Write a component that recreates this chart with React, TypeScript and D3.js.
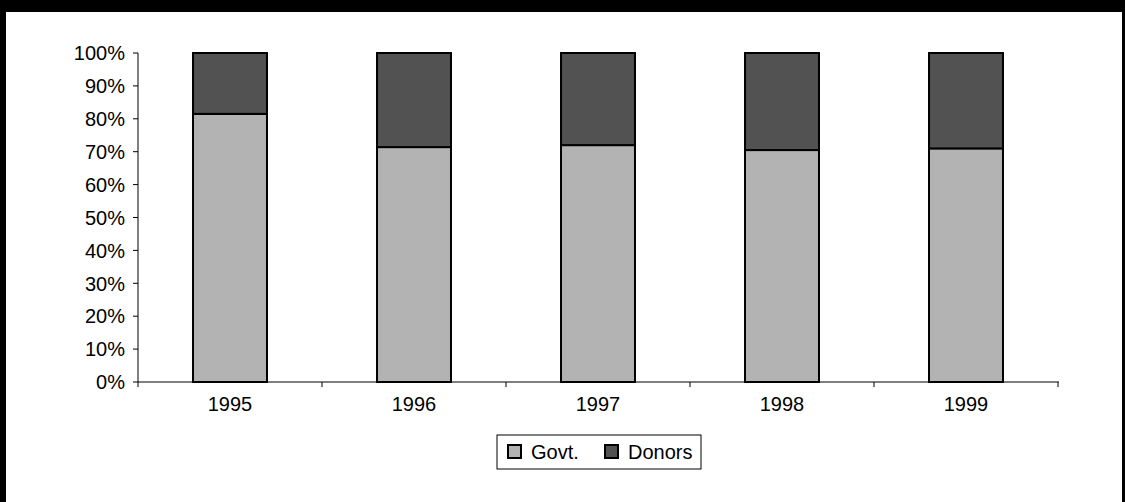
import React from "react";
import * as d3 from "d3";

const years = ["1995", "1996", "1997", "1998", "1999"];
const govt = [0.815, 0.714, 0.72, 0.705, 0.71];
const donors = govt.map((g) => 1 - g);
const yTicks = [0, 0.1, 0.2, 0.3, 0.4, 0.5, 0.6, 0.7, 0.8, 0.9, 1.0];
const seriesNames = ["Govt.", "Donors"];
const seriesColors = ["#b3b3b3", "#525252"];

const W = 1125;
const H = 502;
const FONT = "'Liberation Sans', Arial, Helvetica, sans-serif";

export default function App() {
  const x = d3
    .scaleBand<string>()
    .domain(years)
    .range([138, 1058])
    .paddingInner(0.598)
    .paddingOuter(0.299);
  const y = d3.scaleLinear().domain([0, 1]).range([382, 53]);
  const step = x.step();
  const stack = years.map((yr, i) => ({ yr, g: govt[i], d: donors[i] }));

  return (
    <div style={{ position: "fixed", left: 0, top: 0 }}>
      <svg width={W} height={H} style={{ display: "block", background: "#fff" }}>
        {/* frame */}
        <rect x={0} y={0} width={W} height={12} fill="#000" />
        <rect x={0} y={0} width={6} height={H} fill="#000" />
        <rect x={1122} y={0} width={3} height={H} fill="#000" />

        {/* y axis */}
        <line x1={138} x2={138} y1={y(1)} y2={y(0)} stroke="#000" strokeWidth={1} />
        {yTicks.map((t) => (
          <g key={t}>
            <line x1={133} x2={138} y1={y(t)} y2={y(t)} stroke="#000" strokeWidth={1} />
            <text
              x={125}
              y={y(t)}
              dy="0.36em"
              textAnchor="end"
              fontFamily={FONT}
              fontSize={20}
              fill="#000"
            >
              {d3.format(".0%")(t)}
            </text>
          </g>
        ))}

        {/* bars */}
        {stack.map((s) => (
          <g key={s.yr}>
            <rect
              x={x(s.yr)}
              y={y(s.g)}
              width={x.bandwidth()}
              height={y(0) - y(s.g)}
              fill={seriesColors[0]}
              stroke="#000"
              strokeWidth={2}
            />
            <rect
              x={x(s.yr)}
              y={y(s.g + s.d)}
              width={x.bandwidth()}
              height={y(s.g) - y(s.g + s.d)}
              fill={seriesColors[1]}
              stroke="#000"
              strokeWidth={2}
            />
          </g>
        ))}

        {/* x axis */}
        <line x1={138} x2={1059} y1={y(0)} y2={y(0)} stroke="#000" strokeWidth={1} />
        {years.map((yr, i) => (
          <line
            key={"t" + yr}
            x1={138 + step * (i + 1)}
            x2={138 + step * (i + 1)}
            y1={y(0)}
            y2={y(0) + 5}
            stroke="#000"
            strokeWidth={1}
          />
        ))}
        <line x1={138} x2={138} y1={y(0)} y2={y(0) + 5} stroke="#000" strokeWidth={1} />
        {years.map((yr) => (
          <text
            key={"l" + yr}
            x={(x(yr) as number) + x.bandwidth() / 2}
            y={411}
            textAnchor="middle"
            fontFamily={FONT}
            fontSize={20}
            fill="#000"
          >
            {yr}
          </text>
        ))}

        {/* legend */}
        <rect x={497} y={435} width={204} height={34} fill="#fff" stroke="#000" strokeWidth={1} />
        {seriesNames.map((n, i) => {
          const sx = i === 0 ? 508 : 605;
          return (
            <g key={n}>
              <rect
                x={sx}
                y={445}
                width={13}
                height={13}
                fill={seriesColors[i]}
                stroke="#000"
                strokeWidth={2}
              />
              <text
                x={sx + 23}
                y={459}
                fontFamily={FONT}
                fontSize={20}
                fill="#000"
              >
                {n}
              </text>
            </g>
          );
        })}
      </svg>
    </div>
  );
}
